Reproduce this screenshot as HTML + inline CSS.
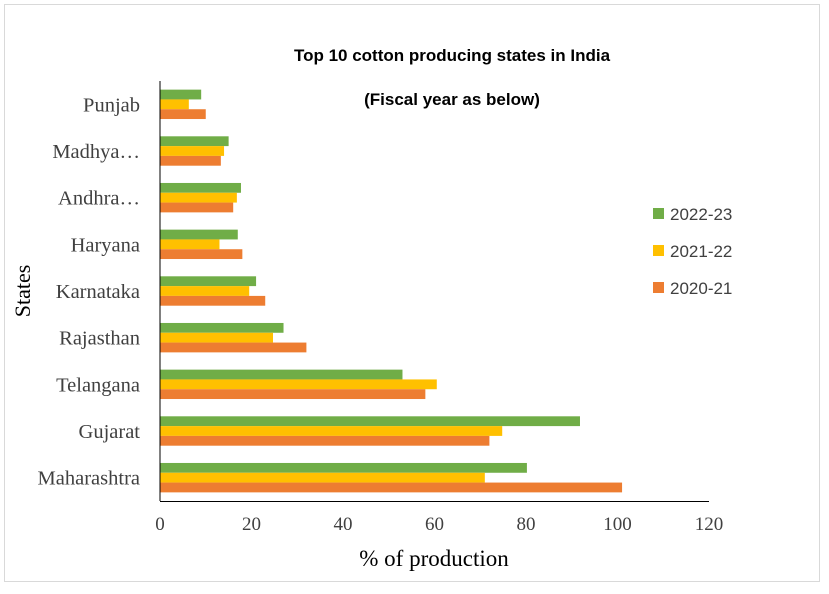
<!DOCTYPE html>
<html><head><meta charset="utf-8"><style>
body{margin:0;background:#fff;}
svg text{font-family:"Liberation Serif",serif;}
</style></head><body>
<svg width="829" height="589">
<rect x="4.5" y="4.5" width="815" height="577" fill="#fff" stroke="#d9d9d9"/>
<text x="452" y="61" text-anchor="middle" style="font-family:'Liberation Sans',sans-serif" font-weight="bold" font-size="17">Top 10 cotton producing states in India</text>
<text x="452" y="105" text-anchor="middle" style="font-family:'Liberation Sans',sans-serif" font-weight="bold" font-size="17">(Fiscal year as below)</text>
<g id="plot"></g>
<text x="434" y="566" text-anchor="middle" font-size="23">% of production</text>
<text transform="translate(30,291) rotate(-90)" text-anchor="middle" font-size="22">States</text>
<g>
<rect x="653" y="208" width="11" height="11" fill="#70ad47"/>
<text x="670" y="220" font-size="17" style="font-family:'Liberation Sans',sans-serif" fill="#404040">2022-23</text>
<rect x="653" y="245" width="11" height="11" fill="#ffc000"/>
<text x="670" y="257" font-size="17" style="font-family:'Liberation Sans',sans-serif" fill="#404040">2021-22</text>
<rect x="653" y="282" width="11" height="11" fill="#ed7d31"/>
<text x="670" y="294" font-size="17" style="font-family:'Liberation Sans',sans-serif" fill="#404040">2020-21</text>
</g>
</svg>
<script>
const categories=["Punjab","Madhya…","Andhra…","Haryana","Karnataka","Rajasthan","Telangana","Gujarat","Maharashtra"];
const s2022=[9,15,17.7,17,21,27,53,91.8,80.2];
const s2021=[6.3,14,16.8,13,19.5,24.7,60.5,74.8,71];
const s2020=[10,13.3,16,18,23,32,58,72,101];
const xTicks=[0,20,40,60,80,100,120];
const NS="http://www.w3.org/2000/svg";
const g=document.getElementById('plot');
const x0=160,x1=709,yTop=81,yBot=501,xMax=120;
const xs=v=>x0+v/xMax*(x1-x0);
const band=(yBot-yTop)/categories.length;
const yc=i=>yTop+band*(i+0.5);
function mk(t,a){const e=document.createElementNS(NS,t);for(const k in a)e.setAttribute(k,a[k]);g.appendChild(e);return e;}
const series=[[s2022,"#70ad47","2022-23",-1],[s2021,"#ffc000","2021-22",0],[s2020,"#ed7d31","2020-21",1]];
const bh=9.8;
series.forEach(([vals,col,name,off])=>{
  vals.forEach((v,i)=>{
    const r=mk('rect',{x:x0,y:yc(i)+off*bh-bh/2,width:xs(v)-x0,height:bh,fill:col});
    
    
  });
});
categories.forEach((c,i)=>{
  const t=mk('text',{x:140,y:yc(i)+7,'text-anchor':'end','font-size':20.5,fill:'#404040'});
  t.textContent=c;
  
  
});
xTicks.forEach(v=>{
  const t=mk('text',{x:xs(v),y:530,'text-anchor':'middle','font-size':19,fill:'#404040'});
  t.textContent=v;
  
  
});
const ax=mk('line',{x1:x0,y1:yTop,x2:x0,y2:yBot,stroke:'#000','stroke-width':1});


const ax2=mk('line',{x1:x0,y1:yBot+0.5,x2:x1,y2:yBot+0.5,stroke:'#000','stroke-width':1});


</script>
</body></html>
